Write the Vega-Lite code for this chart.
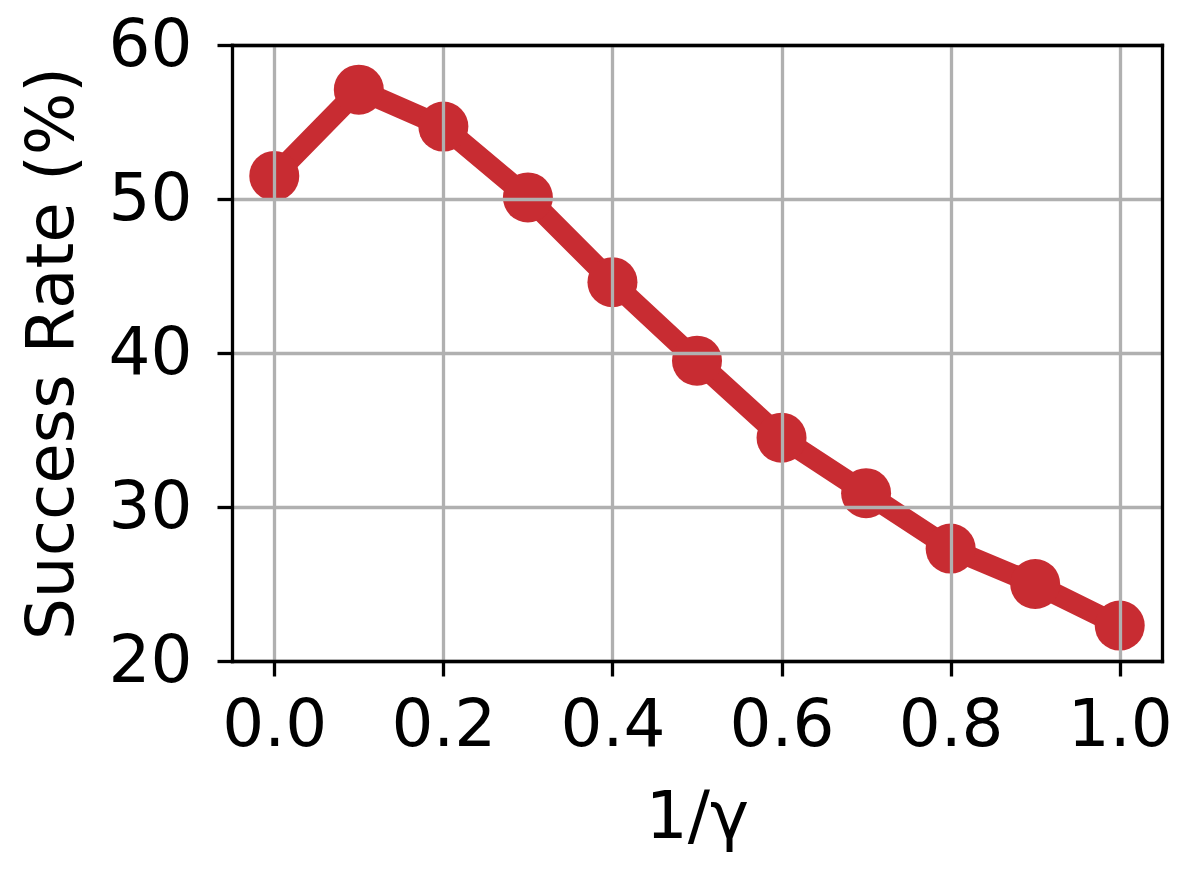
{
  "$schema": "https://vega.github.io/schema/vega-lite/v6.json",
  "width": 930,
  "height": 616,
  "autosize": {"type": "none"},
  "padding": {"left": 232, "top": 45, "right": 30, "bottom": 216},
  "background": "white",
  "config": {
    "font": "DejaVu Sans",
    "view": {"stroke": null},
    "axis": {
      "labelFont": "DejaVu Sans",
      "titleFont": "DejaVu Sans",
      "labelFontSize": 66,
      "titleFontSize": 66,
      "labelColor": "black",
      "titleColor": "black",
      "titleFontWeight": "normal",
      "domain": true,
      "domainColor": "black",
      "domainWidth": 3.3,
      "domainCap": "square",
      "tickColor": "black",
      "tickWidth": 3.3,
      "tickSize": 15,
      "gridColor": "#b0b0b0",
      "gridWidth": 3.3,
      "gridOpacity": 1
    }
  },
  "data": {
    "values": [
      {"x": 0.0, "y": 51.5},
      {"x": 0.1, "y": 57.1},
      {"x": 0.2, "y": 54.7},
      {"x": 0.3, "y": 50.1},
      {"x": 0.4, "y": 44.6},
      {"x": 0.5, "y": 39.5},
      {"x": 0.6, "y": 34.5},
      {"x": 0.7, "y": 30.9},
      {"x": 0.8, "y": 27.3},
      {"x": 0.9, "y": 25.0},
      {"x": 1.0, "y": 22.3}
    ]
  },
  "layer": [
    {
      "mark": {"type": "line", "color": "#c82c32", "strokeWidth": 21, "strokeJoin": "round", "strokeCap": "round"},
      "encoding": {
        "x": {
          "field": "x",
          "type": "quantitative",
          "scale": {"domain": [-0.05, 1.05], "nice": false, "zero": false},
          "axis": {
            "orient": "bottom",
            "values": [0, 0.2, 0.4, 0.6, 0.8, 1.0],
            "format": ".1f",
            "title": "1/γ",
            "labelPadding": 17,
            "titlePadding": 27,
            "zindex": 1
          }
        },
        "y": {
          "field": "y",
          "type": "quantitative",
          "scale": {"domain": [20, 60], "nice": false, "zero": false},
          "axis": {
            "orient": "left",
            "values": [20, 30, 40, 50, 60],
            "title": "Success Rate (%)",
            "labelPadding": 25,
            "titlePadding": 22,
            "zindex": 1
          }
        }
      }
    },
    {
      "mark": {"type": "point", "shape": "circle", "filled": true, "color": "#c82c32", "opacity": 1, "size": 2500},
      "encoding": {
        "x": {
          "field": "x",
          "type": "quantitative",
          "axis": {"orient": "top", "labels": false, "ticks": false, "grid": false, "title": null, "zindex": 1}
        },
        "y": {
          "field": "y",
          "type": "quantitative",
          "axis": {"orient": "right", "labels": false, "ticks": false, "grid": false, "title": null, "zindex": 1}
        }
      }
    }
  ],
  "resolve": {"axis": {"x": "independent", "y": "independent"}}
}
